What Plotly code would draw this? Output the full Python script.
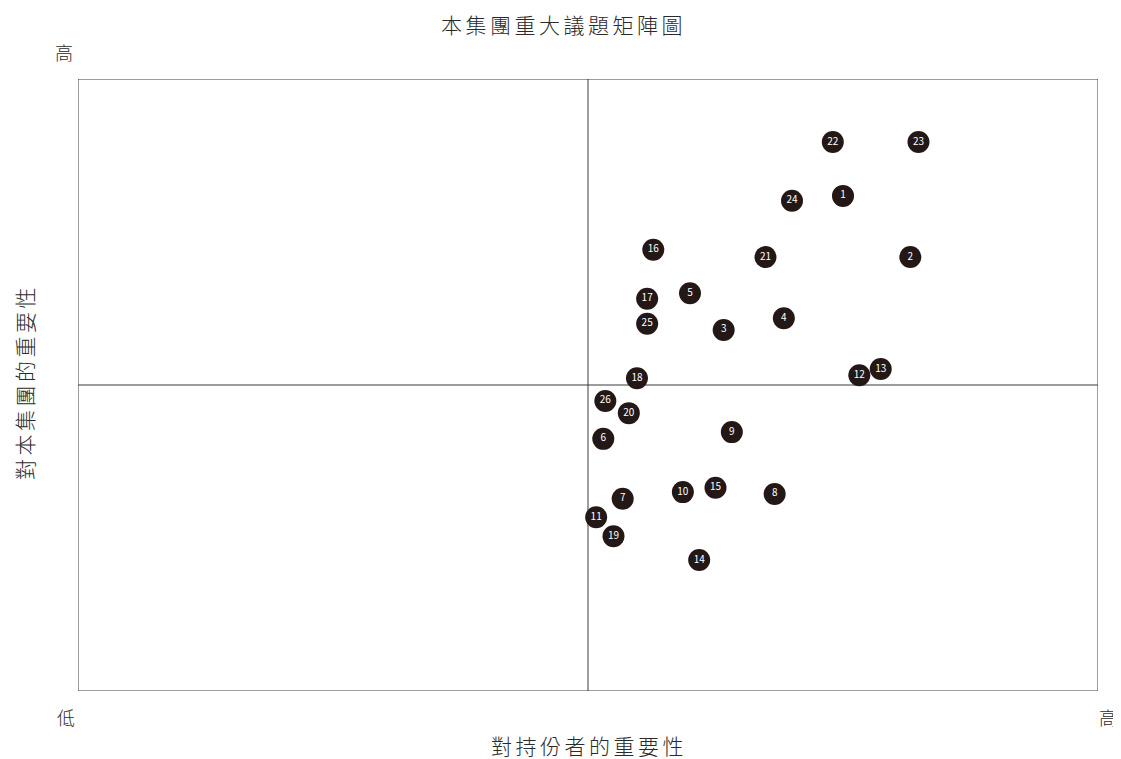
import plotly.graph_objects as go

labels = ["1","2","3","4","5","6","7","8","9","10","11","12","13",
          "14","15","16","17","18","19","20","21","22","23","24","25","26"]
stakeholder = [7.50, 8.16, 6.33, 6.92, 6.00, 5.15, 5.34, 6.83, 6.41, 5.93, 5.08, 7.66, 7.87,
               6.09, 6.25, 5.64, 5.58, 5.48, 5.25, 5.40, 6.74, 7.40, 8.24, 7.00, 5.58, 5.17]
group = [8.09, 7.09, 5.90, 6.09, 6.50, 4.12, 3.14, 3.22, 4.23, 3.25, 2.84, 5.16, 5.26,
         2.14, 3.32, 7.21, 6.41, 5.11, 2.53, 4.54, 7.09, 8.97, 8.97, 8.01, 6.00, 4.74]

title_text = "本集團重大議題矩陣圖"
x_title = "對持份者的重要性"
y_title = "對本集團的重要性"
low_label = "低"
high_label = "高"

FONT = "Noto Sans CJK TC"
LINE = "#3a3a3a"
DOT = "#231815"
TXT = "#2a2a2a"


def spaced(s):
    return "\u2006".join(s)


fig = go.Figure()
fig.add_trace(go.Scatter(
    x=stakeholder, y=group, mode="markers+text", text=labels,
    textposition="middle center",
    textfont=dict(family=FONT, size=10, color="white"),
    marker=dict(size=22, color=DOT, line=dict(width=0)),
    hoverinfo="skip", showlegend=False,
))

# quadrant box and dividers
fig.add_shape(type="rect", xref="x", yref="y", x0=0, x1=10, y0=0, y1=10,
              line=dict(color=LINE, width=1), layer="below")
fig.add_shape(type="line", xref="x", yref="y", x0=5, x1=5, y0=0, y1=10,
              line=dict(color=LINE, width=1), layer="below")
fig.add_shape(type="line", xref="x", yref="y", x0=0, x1=10, y0=5, y1=5,
              line=dict(color=LINE, width=1), layer="below")

big = dict(family=FONT, size=21, color=TXT, weight=300)
small = dict(family=FONT, size=18, color=TXT, weight=300)


def ann(text, x, y, xs, ys, font, angle=0):
    fig.add_annotation(text=text, xref="paper", yref="paper", x=x, y=y,
                       xanchor="center", yanchor="middle", xshift=xs, yshift=ys,
                       showarrow=False, font=font, textangle=angle)


ann(spaced(title_text), 0.4745, 1.0, 0, 55, big)
ann(high_label, 0, 1.0, -14, 27, small)
ann(low_label, 0, 0, -12, -26, small)
ann(high_label, 1, 0, 10, -26, small)
ann(spaced(x_title), 0.5, 0, -1, -54, big)
ann(spaced(y_title), 0, 0.5, -54, 1, big, -90)

fig.update_xaxes(range=[0, 10], showgrid=False, zeroline=False,
                 showticklabels=False, ticks="", showline=False)
fig.update_yaxes(range=[0, 10], showgrid=False, zeroline=False,
                 showticklabels=False, ticks="", showline=False)

fig.update_layout(
    width=1113, height=751,
    margin=dict(l=70, r=23, t=71, b=68),
    paper_bgcolor="white", plot_bgcolor="white",
    font=dict(family=FONT),
)

fig.write_html("out.html")
